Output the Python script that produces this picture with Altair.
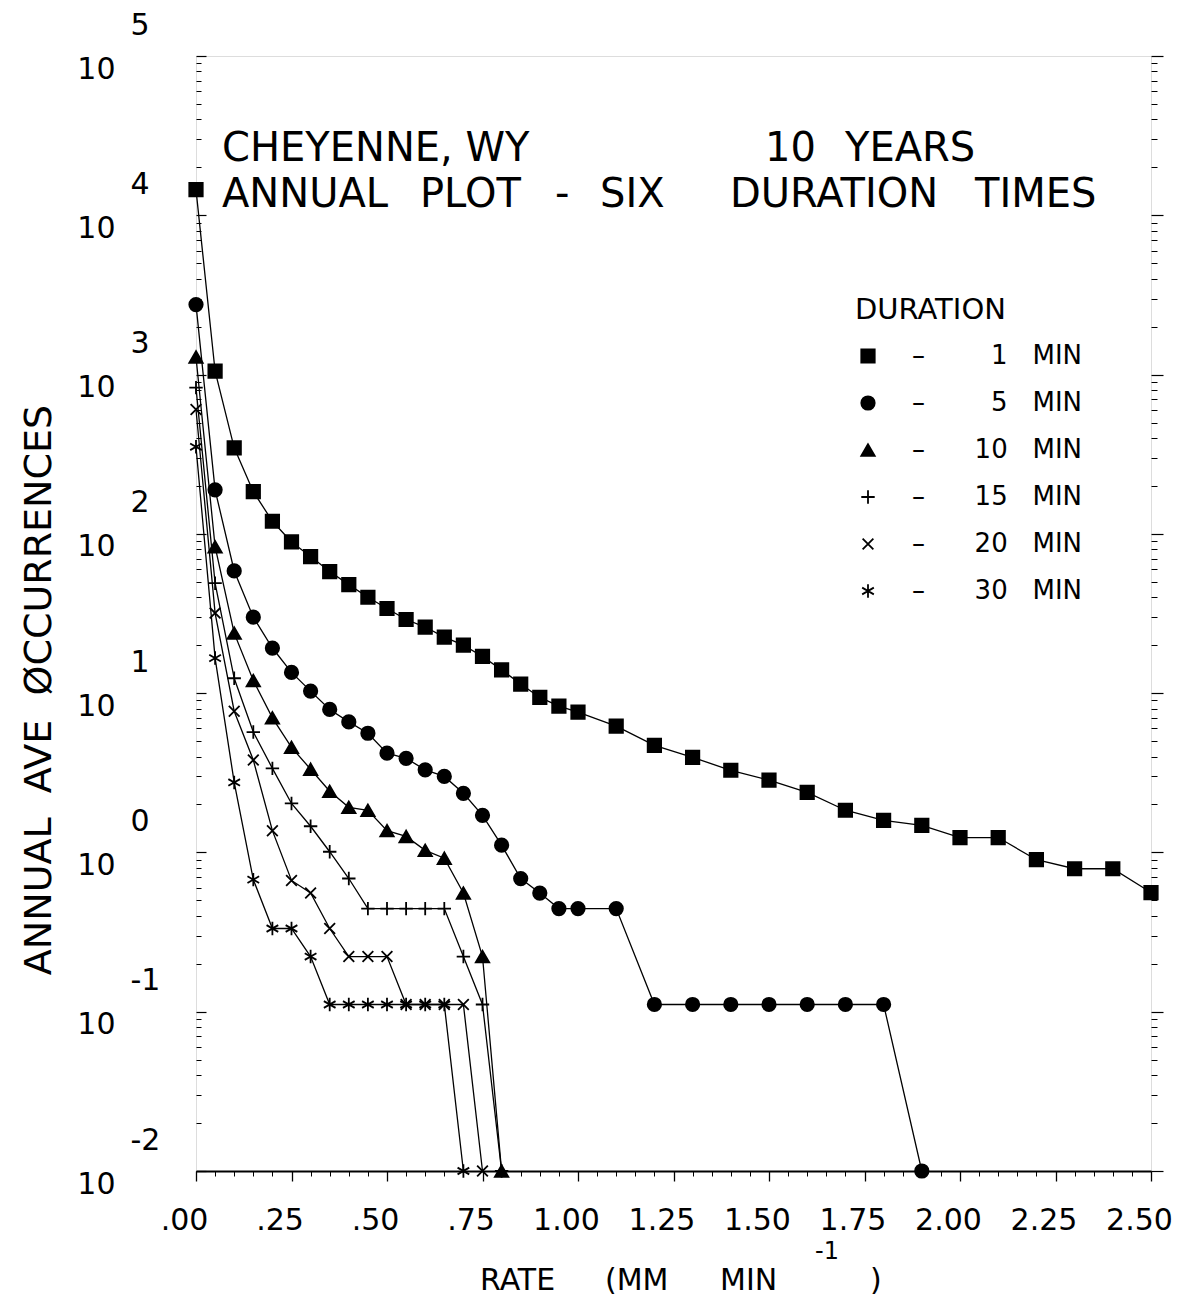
import altair as alt
import pandas as pd

# ---------------- data ----------------
durations = ["1", "5", "10", "15", "20", "30"]

rate_1 = [0.00, 0.05, 0.10, 0.15, 0.20, 0.25, 0.30, 0.35, 0.40, 0.45, 0.50,
          0.55, 0.60, 0.65, 0.70, 0.75, 0.80, 0.85, 0.90, 0.95, 1.00,
          1.10, 1.20, 1.30, 1.40, 1.50, 1.60, 1.70, 1.80, 1.90, 2.00,
          2.10, 2.20, 2.30, 2.40, 2.50]
occ_1 = [14500, 1050, 347, 184, 120, 89, 72, 58, 48, 40, 34,
         29, 26, 22.5, 20, 17, 14, 11.4, 9.4, 8.3, 7.6,
         6.2, 4.7, 3.95, 3.28, 2.84, 2.38, 1.84, 1.59, 1.48, 1.24,
         1.24, 0.90, 0.79, 0.79, 0.56]

rate_5 = [0.00, 0.05, 0.10, 0.15, 0.20, 0.25, 0.30, 0.35, 0.40, 0.45, 0.50,
          0.55, 0.60, 0.65, 0.70, 0.75, 0.80, 0.85, 0.90, 0.95, 1.00,
          1.10, 1.20, 1.30, 1.40, 1.50, 1.60, 1.70, 1.80, 1.90]
occ_5 = [2750, 189, 58.5, 30, 19.2, 13.5, 10.3, 7.9, 6.6, 5.6, 4.2,
         3.9, 3.3, 3.0, 2.35, 1.71, 1.11, 0.685, 0.556, 0.444, 0.444,
         0.444, 0.111, 0.111, 0.111, 0.111, 0.111, 0.111, 0.111, 0.01]

rate_10 = [0.00, 0.05, 0.10, 0.15, 0.20, 0.25, 0.30, 0.35, 0.40, 0.45, 0.50,
           0.55, 0.60, 0.65, 0.70, 0.75, 0.80]
occ_10 = [1290, 83, 23.8, 12, 7.0, 4.57, 3.33, 2.42, 1.92, 1.84, 1.37,
          1.26, 1.03, 0.92, 0.556, 0.222, 0.01]

rate_15 = [0.00, 0.05, 0.10, 0.15, 0.20, 0.25, 0.30, 0.35, 0.40, 0.45, 0.50,
           0.55, 0.60, 0.65, 0.70, 0.75, 0.80]
occ_15 = [828, 49, 12.4, 5.7, 3.37, 2.03, 1.46, 1.01, 0.686, 0.444, 0.444,
          0.444, 0.444, 0.444, 0.222, 0.111, 0.01]

rate_20 = [0.00, 0.05, 0.10, 0.15, 0.20, 0.25, 0.30, 0.35, 0.40, 0.45, 0.50,
           0.55, 0.60, 0.65, 0.70, 0.75]
occ_20 = [603, 31.8, 7.7, 3.8, 1.37, 0.667, 0.556, 0.333, 0.222, 0.222, 0.222,
          0.111, 0.111, 0.111, 0.111, 0.01]

rate_30 = [0.00, 0.05, 0.10, 0.15, 0.20, 0.25, 0.30, 0.35, 0.40, 0.45, 0.50,
           0.55, 0.60, 0.65, 0.70]
occ_30 = [352, 16.6, 2.75, 0.675, 0.333, 0.333, 0.222, 0.111, 0.111, 0.111, 0.111,
          0.111, 0.111, 0.111, 0.01]

x_tick_values = [0.0, 0.25, 0.5, 0.75, 1.0, 1.25, 1.5, 1.75, 2.0, 2.25, 2.5]
y_decades = [0.01, 0.1, 1, 10, 100, 1000, 10000, 100000]

rates = [rate_1, rate_5, rate_10, rate_15, rate_20, rate_30]
occs = [occ_1, occ_5, occ_10, occ_15, occ_20, occ_30]

rows = []
for d, r, o in zip(durations, rates, occs):
    for xv, yv in zip(r, o):
        rows.append({"dur": d, "rate": xv, "occ": yv})
df = pd.DataFrame(rows)

# ---------------- styling ----------------
FONT = "DejaVu Sans"
W, H = 955, 1115
NB = "\u00a0"

x_minor = [round(i * 0.05, 2) for i in range(51)]
y_minor = [m * 10.0 ** e for e in range(-2, 5) for m in range(2, 10)]

xscale = alt.Scale(domain=[0, 2.5], nice=False, zero=False)
yscale = alt.Scale(type="log", domain=[0.01, 100000], nice=False)

shapes = ["square", "circle", "triangle-up",
          "M-1,0H1M0,-1V1",
          "M-0.8,-0.8L0.8,0.8M-0.8,0.8L0.8,-0.8",
          "M0,-1V1M-0.87,-0.5L0.87,0.5M-0.87,0.5L0.87,-0.5"]
fills = ["black", "black", "black", "transparent", "transparent", "transparent"]
strokes = ["black"] * 6

label_expr = ("'\u2013' + (length(datum.label) < 2 ? '" + NB * 8 + "' : '" + NB * 6 + "') + "
              "datum.label + '" + NB * 3 + "MIN'")

legend = alt.Legend(
    title="DURATION", orient="none", legendX=659, legendY=240, direction="vertical",
    titleFont=FONT, titleFontSize=29, titleFontWeight="normal", titleColor="black",
    titlePadding=18, titleAnchor="start", titleLimit=400,
    labelFont=FONT, labelFontSize=26, labelColor="black", labelOffset=31, labelLimit=500,
    labelExpr=label_expr, rowPadding=21, symbolSize=180, symbolStrokeWidth=1.8,
    symbolStrokeColor="black", padding=0,
)

base = alt.Chart(df)


def inv_layer(axis):
    return base.mark_point(opacity=0).encode(
        x=alt.X("rate:Q", scale=xscale, axis=None),
        y=alt.Y("occ:Q", scale=yscale, axis=axis),
    )


lines = base.mark_line(color="black", strokeWidth=1.3).encode(
    x=alt.X("rate:Q", scale=xscale,
            axis=alt.Axis(orient="bottom", values=x_tick_values, tickSize=10, tickWidth=1.3,
                          labelExpr="datum.value < 1 ? substring(format(datum.value, '.2f'), 1) : format(datum.value, '.2f')",
                          labelFont=FONT, labelFontSize=30, labelPadding=24, labelOffset=-12,
                          labelOverlap=False, labelFlush=False, title=None, grid=False,
                          domain=True, domainWidth=2, domainColor="black",
                          tickColor="black", labelColor="black")),
    y=alt.Y("occ:Q", scale=yscale,
            axis=alt.Axis(orient="left", values=y_decades, tickSize=10, offset=-10,
                          tickColor="black", tickWidth=1.2, labels=False, domain=False,
                          grid=False, title=None)),
    detail="dur:N",
)

points = base.mark_point(size=180, strokeWidth=1.8, opacity=1).encode(
    x=alt.X("rate:Q", scale=xscale,
            axis=alt.Axis(orient="bottom", values=x_minor, tickSize=5, tickColor="black",
                          labels=False, domain=False, grid=False, title=None)),
    y=alt.Y("occ:Q", scale=yscale,
            axis=alt.Axis(orient="left", values=y_minor, tickSize=5, offset=-5,
                          tickColor="black", labels=False, domain=False, grid=False,
                          title=None)),
    shape=alt.Shape("dur:N", scale=alt.Scale(domain=durations, range=shapes), legend=legend),
    fill=alt.Fill("dur:N", scale=alt.Scale(domain=durations, range=fills), legend=legend),
    stroke=alt.Stroke("dur:N", scale=alt.Scale(domain=durations, range=strokes), legend=legend),
)

ten_axis = inv_layer(alt.Axis(orient="left", values=y_decades, ticks=False, domain=False,
                              labelExpr="'10'", labelAlign="right", labelBaseline="middle",
                              labelPadding=81, labelOffset=13, labelFont=FONT, labelFontSize=30,
                              labelColor="black", labelOverlap=False, labelFlush=False,
                              grid=False, title=None))
exp_axis = inv_layer(alt.Axis(orient="left", values=y_decades, ticks=False, domain=False,
                              labelExpr="'' + round(log(datum.value) / LN10)",
                              labelAlign="left", labelBaseline="middle",
                              labelPadding=66, labelOffset=-31, labelFont=FONT, labelFontSize=30,
                              labelColor="black", labelOverlap=False, labelFlush=False,
                              grid=False, title=None))
right_major = inv_layer(alt.Axis(orient="right", values=y_decades, tickSize=12, tickColor="black",
                                 tickWidth=1.2, labels=False, domain=False, grid=False, title=None))
right_minor = inv_layer(alt.Axis(orient="right", values=y_minor, tickSize=6, tickColor="black",
                                 labels=False, domain=False, grid=False, title=None))


def txt(s, x, y, size, align="left", angle=0, baseline="alphabetic"):
    return alt.Chart(alt.Data(values=[{}])).mark_text(
        text=s, font=FONT, fontSize=size, align=align, baseline=baseline,
        angle=angle, color="black",
    ).encode(x=alt.value(x), y=alt.value(y))


texts = [
    txt("CHEYENNE," + NB + "WY", 26, 105, 40),
    txt("10", 569, 105, 40),
    txt("YEARS", 649, 105, 40),
    txt("ANNUAL", 26, 151, 40),
    txt("PLOT", 224, 151, 40),
    txt("-", 359, 151, 40),
    txt("SIX", 404, 151, 40),
    txt("DURATION", 534, 151, 40),
    txt("TIMES", 779, 151, 40),
    txt("ANNUAL" + NB * 2 + "AVE" + NB * 2 + "\u00d8CCURRENCES", -156, 634, 38,
        align="center", angle=270, baseline="middle"),
    txt("RATE", 284, 1234, 30),
    txt("(MM", 409, 1234, 30),
    txt("MIN", 524, 1234, 30),
    txt("-1", 619, 1203, 24),
    txt(")", 674, 1234, 30),
]

chart = alt.layer(lines, points, ten_axis, exp_axis, right_major, right_minor, *texts).resolve_axis(
    x="independent", y="independent"
).properties(
    width=W, height=H, autosize="none",
    padding={"left": 188, "top": 48, "right": 40, "bottom": 130},
).configure_view(stroke="black", strokeWidth=1.2).configure(background="white")

chart.save("out.html", embed_options={"renderer": "svg", "actions": False})
